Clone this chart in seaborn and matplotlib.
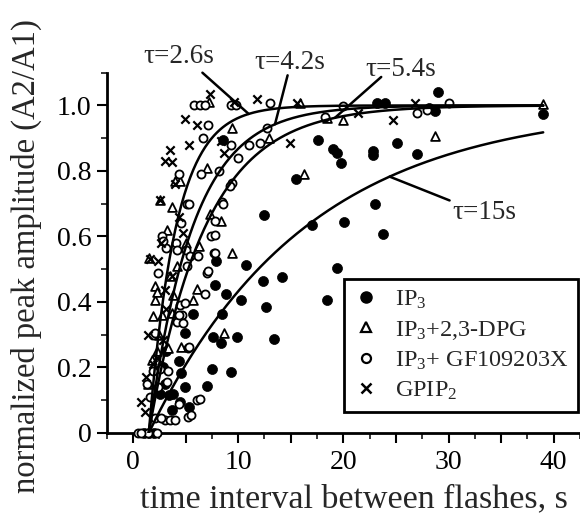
import numpy as np
import pandas as pd
import matplotlib
matplotlib.use("Agg")
import matplotlib.pyplot as plt
from matplotlib.lines import Line2D
from matplotlib.ticker import MultipleLocator, FuncFormatter
import seaborn as sns

# ---------------- data ----------------
ip3_x = [39.0, 29.0, 28.7, 28.1, 23.2, 24.0, 25.1, 22.8, 22.8, 27.0, 19.8, 19.4, 19.0, 17.6, 15.5,
         23.0, 12.5, 17.0, 20.1, 23.8, 19.4, 18.4, 10.7, 12.4, 14.2, 12.6, 13.4, 10.3, 9.9, 9.3,
         7.6, 8.4, 8.5, 8.8, 7.9, 7.8, 7.5, 7.0, 5.7, 4.9, 4.6, 4.9, 5.3, 4.5, 3.7, 3.4, 8.6,
         1.0, 1.5, 2.0, 4.4, 3.0, 3.8, 2.9, 3.1, 2.6]
ip3_y = [0.975, 1.04, 0.983, 0.993, 1.008, 1.008, 0.884, 0.86, 0.85, 0.853, 0.825, 0.855, 0.866, 0.896, 0.774,
         0.70, 0.667, 0.636, 0.643, 0.608, 0.505, 0.407, 0.514, 0.465, 0.475, 0.385, 0.287, 0.407, 0.294, 0.187,
         0.294, 0.275, 0.364, 0.425, 0.526, 0.453, 0.195, 0.144, 0.364, 0.305, 0.184, 0.141, 0.08, 0.095, 0.07, 0.116, 0.896,
         0.0, 0.0, 0.0, 0.22, 0.15, 0.12, 0.20, 0.25, 0.12]

dpg_x = [39.0, 28.7, 20.0, 18.4, 15.9, 16.3, 9.4, 12.9, 9.4, 8.7, 8.4, 7.3, 7.0, 6.3, 6.05, 5.7, 7.2,
         4.6, 3.7, 3.8, 4.0, 4.5, 3.7, 2.6, 1.5, 2.1, 1.9, 2.1, 1.8, 2.3, 3.3, 4.15, 2.8, 2.3, 3.2,
         3.5, 2.5, 1.4, 5.0]
dpg_y = [1.003, 0.906, 0.957, 0.962, 1.008, 0.79, 0.93, 0.90, 0.55, 0.305, 0.646, 0.67, 0.81, 0.57, 0.44, 0.407, 1.01,
         0.264, 0.366, 0.42, 0.77, 0.77, 0.69, 0.71, 0.534, 0.45, 0.356, 0.407, 0.223, 0.25, 0.26, 0.51, 0.36, 0.43, 0.62,
         0.48, 0.30, 0.15, 0.58]

gf_x = [30.0, 28.0, 27.0, 20.0, 18.25, 13.0, 12.7, 12.1, 11.0, 10.0, 9.4, 8.5, 9.3, 9.2, 8.2, 7.4, 7.7,
        7.0, 6.2, 6.5, 7.1, 6.7, 5.8, 6.4, 6.8, 9.3, 9.8, 5.1, 5.0, 4.4, 2.8, 3.1, 4.1, 5.1, 5.2, 4.2,
        4.5, 4.7, 2.4, 1.9, 2.6, 2.4, 1.6, 0.5, 1.4, 2.3, 0.8, 3.0, 3.5, 3.95, 2.1, 2.7, 6.1, 5.2, 4.4,
        5.5, 6.4, 7.1, 7.8, 6.8, 5.3, 8.6, 7.8, 7.8, 4.6, 2.9, 4.15, 5.4, 4.9, 4.8, 4.4, 1.3, 1.9, 3.35,
        3.2, 2.1, 5.3]
gf_y = [1.006, 0.985, 0.976, 0.998, 0.965, 1.008, 0.93, 0.886, 0.88, 0.84, 0.764, 0.705, 0.88, 0.755, 0.80, 0.60, 0.55,
        0.49, 0.54, 0.79, 0.94, 0.90, 1.00, 1.00, 1.00, 1.00, 1.00, 0.70, 0.56, 0.79, 0.60, 0.565, 0.58, 0.51, 0.26, 0.34,
        0.39, 0.36, 0.49, 0.30, 0.195, 0.14, 0.11, 0.0, 0.0, 0.0, 0.0, 0.04, 0.04, 0.04, 0.045, 0.045, 0.10, 0.05, 0.09,
        0.055, 0.103, 0.495, 0.55, 0.425, 0.264, 0.70, 0.646, 0.605, 0.64, 0.585, 0.56, 0.54, 0.397, 0.335, 0.36, 0.15, 0.19, 0.19,
        0.157, 0.305, 0.70]

gpip_x = [11.8, 7.3, 4.9, 6.05, 5.3, 3.5, 3.0, 3.7, 8.7, 14.9, 4.0, 2.6, 4.4, 2.7, 4.8, 2.4, 1.6, 3.0,
          3.7, 2.9, 2.25, 0.8, 1.1, 21.4, 26.8, 24.7, 9.6, 8.4, 1.9, 1.2, 3.1, 1.4, 15.6]
gpip_y = [1.02, 1.036, 0.96, 0.94, 0.88, 0.865, 0.83, 0.826, 0.855, 0.884, 0.76, 0.71, 0.66, 0.58, 0.61, 0.524, 0.53, 0.437,
          0.478, 0.284, 0.228, 0.096, 0.065, 0.977, 1.008, 0.957, 1.01, 0.89, 0.21, 0.17, 0.38, 0.30, 1.008]

# fitted exponential recovery curves: y = 1 - exp(-(t - t0)/tau)
taus = [2.6, 4.2, 5.4, 15.0]
tau_labels = ["τ=2.6s", "τ=4.2s", "τ=5.4s", "τ=15s"]
t_delay = 1.5
t_end = 39.0
# label text centres and leader-line start / curve anchor x
label_pos = [(4.4, 1.15), (14.9, 1.13), (25.5, 1.11), (33.4, 0.674)]
leader_start = [(6.6, 1.10), (14.7, 1.092), (23.6, 1.087), (30.1, 0.71)]
leader_anchor_x = [11.0, 13.5, 19.2, 24.4]

series_names = ["IP$_\\mathregular{3}$", "IP$_\\mathregular{3}$+2,3-DPG",
                "IP$_\\mathregular{3}$+ GF109203X", "GPIP$_\\mathregular{2}$"]

# ---------------- style ----------------
sns.set_theme(style="ticks")
plt.rcParams["font.family"] = ["Liberation Serif", "DejaVu Serif"]
plt.rcParams["mathtext.fontset"] = "custom"
plt.rcParams["mathtext.rm"] = "Liberation Serif"
plt.rcParams["mathtext.it"] = "Liberation Serif:italic"

fig = plt.figure(figsize=(5.8, 5.19), dpi=100)
AX_L, AX_R, AX_T, AX_B = 106.7, 580.0, 72.7, 433.0
ax = fig.add_axes([AX_L / 580, (519 - AX_B) / 519, (AX_R - AX_L) / 580, (AX_B - AX_T) / 519])
AW, AH = AX_R - AX_L, AX_B - AX_T

lw_m = 1.3
df_ip3 = pd.DataFrame({"t": ip3_x, "r": ip3_y})
df_dpg = pd.DataFrame({"t": dpg_x, "r": dpg_y})
df_gf = pd.DataFrame({"t": gf_x, "r": gf_y})
df_gp = pd.DataFrame({"t": gpip_x, "r": gpip_y})

sns.scatterplot(data=df_ip3, x="t", y="r", ax=ax, marker="o", s=52, color="black",
                edgecolor="black", linewidth=0.5, clip_on=False, zorder=3)
sns.scatterplot(data=df_dpg, x="t", y="r", ax=ax, marker="^", s=40, facecolor="white",
                edgecolor="black", linewidth=lw_m, clip_on=False, zorder=3)
sns.scatterplot(data=df_gf, x="t", y="r", ax=ax, marker="o", s=34, facecolor="white",
                edgecolor="black", linewidth=lw_m, clip_on=False, zorder=3)
sns.scatterplot(data=df_gp, x="t", y="r", ax=ax, marker="x", s=36, color="black",
                linewidth=1.6, clip_on=False, zorder=3)

tt = np.linspace(t_delay, t_end, 400)
for tau in taus:
    cdf = pd.DataFrame({"t": tt, "r": 1 - np.exp(-(tt - t_delay) / tau)})
    sns.lineplot(data=cdf, x="t", y="r", ax=ax, color="black", lw=1.8, zorder=4)

for lab, (tx, ty), (sx, sy), ax_x, tau in zip(tau_labels, label_pos, leader_start, leader_anchor_x, taus):
    ay = 1 - np.exp(-(ax_x - t_delay) / tau)
    ax.annotate("", xy=(ax_x, ay), xytext=(sx, sy),
                arrowprops=dict(arrowstyle="-", lw=1.8, color="black", shrinkA=0, shrinkB=0),
                annotation_clip=False)
    ax.text(tx, ty, lab, fontsize=19.5, ha="center", va="center")

ax.set_xlim(-2.5, 42.5)
ax.set_ylim(0, 1.10)
ax.xaxis.set_major_locator(MultipleLocator(5))
ax.xaxis.set_minor_locator(MultipleLocator(2.5))
ax.xaxis.set_major_formatter(FuncFormatter(lambda v, p: f"{v:.0f}" if abs(v % 10) < 1e-6 else ""))
ax.yaxis.set_major_locator(MultipleLocator(0.2))
ax.yaxis.set_minor_locator(MultipleLocator(0.1))
ax.yaxis.set_major_formatter(FuncFormatter(lambda v, p: "0" if abs(v) < 1e-9 else f"{v:.1f}"))
ax.tick_params(axis="both", which="major", direction="out", length=7, width=1.5,
               labelsize=20, colors="black")
ax.tick_params(axis="both", which="minor", direction="out", length=4, width=1.3)
ax.tick_params(axis="x", which="major", pad=5)
ax.tick_params(axis="y", which="major", pad=4)
for s in ["top", "right"]:
    ax.spines[s].set_visible(False)
for s in ["left", "bottom"]:
    ax.spines[s].set_linewidth(2.0)
    ax.spines[s].set_color("black")

ax.set_xlabel("time interval between flashes, s", fontsize=24.5)
ax.set_ylabel("normalized peak amplitude (A2/A1)", fontsize=23.5)
ax.xaxis.set_label_coords((354 - AX_L) / AW, -(484 - AX_B) / AH)
ax.yaxis.set_label_coords(-(AX_L - 42) / AW, (AX_B - 256) / AH)

handles = [
    Line2D([], [], ls="none", marker="o", ms=8, mfc="black", mec="black"),
    Line2D([], [], ls="none", marker="^", ms=7, mfc="white", mec="black", mew=1.6),
    Line2D([], [], ls="none", marker="o", ms=6.5, mfc="white", mec="black", mew=1.6),
    Line2D([], [], ls="none", marker="x", ms=7, mec="black", mew=1.8),
]
leg = ax.legend(handles, series_names, loc="lower right", bbox_to_anchor=(0.996, (AX_B - 412) / AH),
                fontsize=17.5, frameon=True, fancybox=False, framealpha=1, edgecolor="black",
                handlelength=1.0, handletextpad=0.7, labelspacing=0.33, borderpad=0.4,
                borderaxespad=0)
leg.get_frame().set_linewidth(2.0)

fig.savefig("out.png", dpi=100)
